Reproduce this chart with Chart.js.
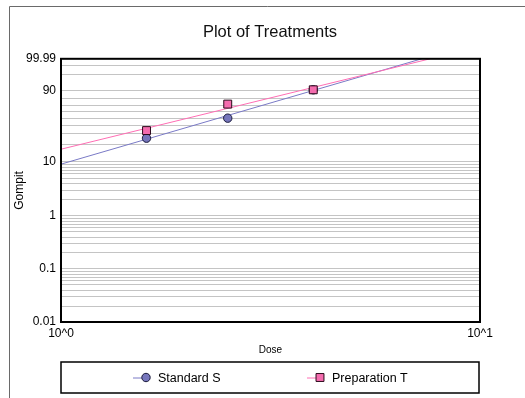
<!DOCTYPE html>
<html>
<head>
<meta charset="utf-8">
<script src="https://cdn.jsdelivr.net/npm/chart.js@4/dist/chart.umd.min.js"></script>
<style>
  html, body { margin: 0; padding: 0; background: #fff; }
  canvas { display: block; }
</style>
</head>
<body>
<canvas id="c" width="525" height="398"></canvas>
<script>
// data (response in %)
const doses = [1.6, 2.5, 4.0];
const standardS = [25.4, 50.3, 90.9];
const preparationT = [33.5, 72.4, 90.9];

// fitted lines, end points (dose, %)
const fitDoseS = [1, 7.26];
const fitS = [9.05, 99.99];
const fitDoseT = [1, 7.6];
const fitT = [16.6, 99.99];

const gridPct = [0.01, 0.02, 0.03, 0.04, 0.05, 0.06, 0.07, 0.08, 0.09,
  0.1, 0.2, 0.3, 0.4, 0.5, 0.6, 0.7, 0.8, 0.9,
  1, 2, 3, 4, 5, 6, 7, 8, 9,
  10, 20, 30, 40, 50, 60, 70, 80, 90, 99, 99.9, 99.99];
const yTickLabels = ['0.01', '0.1', '1', '10', '90', '99.99'];
const xTickValues = [1, 10];
const xTickLabels = ['10^0', '10^1'];

function gompit(pct) { return Math.log(-Math.log(1 - pct / 100)); }

function pts(xs, ys) { return xs.map((x, i) => ({ x: x, y: gompit(ys[i]) })); }

Chart.defaults.font.family = 'Arial, "Liberation Sans", sans-serif';
Chart.defaults.color = '#000';

const colS = { line: '#7a7ac6', fill: '#7676bc', edge: '#1c1c3c' };
const colT = { line: '#ff6eb4', fill: '#f46cae', edge: '#2c0a1c' };

const frame = {
  id: 'frame',
  beforeDraw(chart) {
    const ctx = chart.ctx;
    ctx.save();
    ctx.fillStyle = '#fff';
    ctx.fillRect(0, 0, chart.width, chart.height);
    ctx.strokeStyle = '#6a6a6a';
    ctx.lineWidth = 1;
    ctx.beginPath();
    ctx.moveTo(9.5, chart.height);
    ctx.lineTo(9.5, 6.5);
    ctx.lineTo(chart.width, 6.5);
    ctx.stroke();
    ctx.restore();
  },
  afterDatasetsDraw(chart) {
    const a = chart.chartArea, ctx = chart.ctx;
    ctx.save();
    ctx.strokeStyle = '#000';
    ctx.lineWidth = 2;
    ctx.strokeRect(a.left, a.top, a.right - a.left, a.bottom - a.top);
    ctx.restore();
  }
};

const boxLegend = {
  id: 'boxLegend',
  afterDraw(chart) {
    const ctx = chart.ctx, a = chart.chartArea;
    const top = 362, h = 31, y = top + h / 2;
    ctx.save();
    ctx.strokeStyle = '#000';
    ctx.lineWidth = 1.5;
    ctx.strokeRect(a.left, top, a.right - a.left - 1, h);
    const items = [
      { ds: chart.data.datasets[2], line: chart.data.datasets[0].borderColor, x: 133 },
      { ds: chart.data.datasets[3], line: chart.data.datasets[1].borderColor, x: 307 }
    ];
    items.forEach(it => {
      ctx.strokeStyle = it.line;
      ctx.lineWidth = 1;
      ctx.beginPath();
      ctx.moveTo(it.x, y + 0.5);
      ctx.lineTo(it.x + 13, y + 0.5);
      ctx.stroke();
      ctx.fillStyle = it.ds.backgroundColor;
      ctx.strokeStyle = it.ds.borderColor;
      ctx.lineWidth = it.ds.borderWidth;
      Chart.helpers.drawPoint(ctx, { pointStyle: it.ds.pointStyle, rotation: 0, radius: it.ds.pointRadius, borderWidth: it.ds.borderWidth }, it.x + 13, y);
      ctx.fillStyle = '#000';
      ctx.font = '12.5px Arial, "Liberation Sans", sans-serif';
      ctx.textBaseline = 'middle';
      ctx.fillText(it.ds.label, it.x + 25, y + 1);
    });
    ctx.restore();
  }
};

new Chart(document.getElementById('c'), {
  type: 'scatter',
  data: {
    datasets: [
      { label: 'fit S', data: pts(fitDoseS, fitS), showLine: true, borderColor: colS.line, borderWidth: 1, pointRadius: 0, order: 4 },
      { label: 'fit T', data: pts(fitDoseT, fitT), showLine: true, borderColor: colT.line, borderWidth: 1, pointRadius: 0, order: 3 },
      { label: 'Standard S', data: pts(doses, standardS), pointStyle: 'circle', pointRadius: 4.2,
        backgroundColor: colS.fill, borderColor: colS.edge, borderWidth: 1, order: 2 },
      { label: 'Preparation T', data: pts(doses, preparationT), pointStyle: 'rect', pointRadius: 5.6,
        backgroundColor: colT.fill, borderColor: colT.edge, borderWidth: 1, order: 1 }
    ]
  },
  options: {
    responsive: false,
    animation: false,
    layout: { padding: { left: 15, right: 0, top: 0, bottom: 40 } },
    plugins: {
      legend: { display: false },
      tooltip: { enabled: false },
      title: {
        display: true,
        text: 'Plot of Treatments',
        color: '#111',
        font: { size: 16.5, weight: 'normal' },
        padding: { top: 23, bottom: 16 }
      }
    },
    scales: {
      x: {
        type: 'logarithmic',
        min: 1,
        max: 10,
        afterBuildTicks: s => { s.ticks = xTickValues.map(v => ({ value: v })); },
        afterFit: s => { s.height = 36; },
        grid: { display: false, drawTicks: false },
        border: { display: false },
        ticks: { autoSkip: false, maxRotation: 0, padding: 4, font: { size: 12 },
          callback: (v, i) => xTickLabels[i] },
        title: { display: true, text: 'Dose', font: { size: 10 }, padding: { top: 0, bottom: 2 } }
      },
      y: {
        type: 'linear',
        min: gompit(0.01),
        max: gompit(99.99),
        afterBuildTicks: s => { s.ticks = gridPct.map(p => ({ value: gompit(p) })); },
        afterFit: s => { s.width = 46; },
        grid: { color: '#c4c4c4', lineWidth: 1, drawTicks: false },
        border: { display: false },
        ticks: { autoSkip: false, padding: 5, font: { size: 12 },
          callback: (v, i) => { const l = String(gridPct[i]); return yTickLabels.includes(l) ? l : ''; } },
        title: { display: true, text: 'Gompit', font: { size: 12 }, padding: { top: -2.5, bottom: 0 } }
      },
      yRight: {
        type: 'linear',
        position: 'right',
        display: true,
        afterFit: s => { s.width = 45; },
        grid: { display: false, drawTicks: false },
        border: { display: false },
        ticks: { display: false }
      }
    }
  },
  plugins: [frame, boxLegend]
});
</script>
</body>
</html>
